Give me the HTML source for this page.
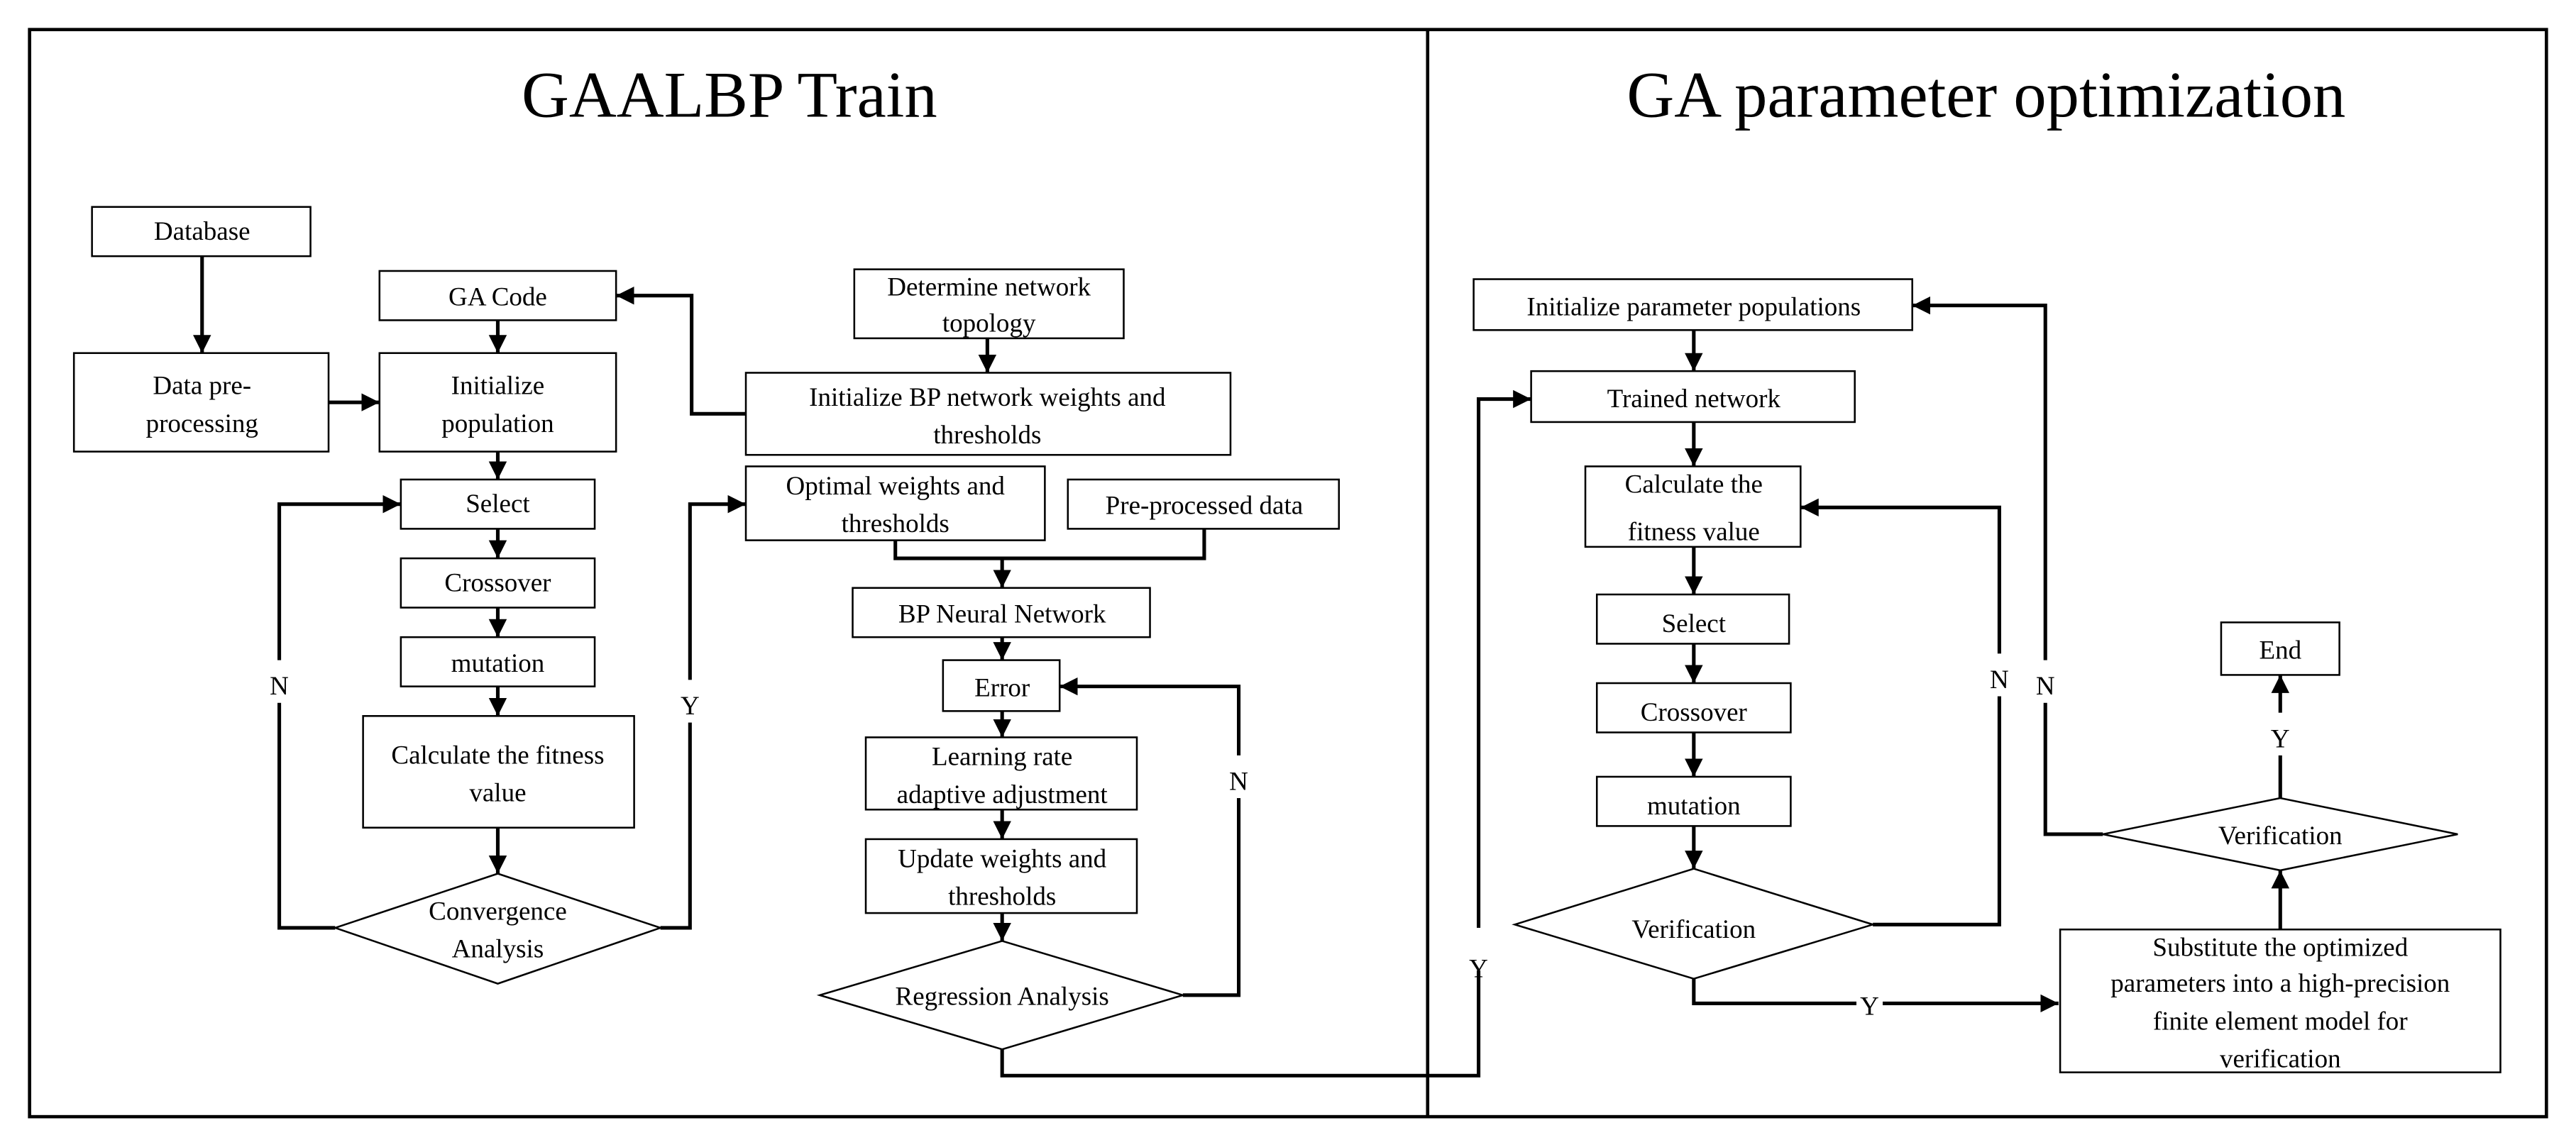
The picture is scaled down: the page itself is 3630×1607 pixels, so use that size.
<!DOCTYPE html>
<html><head><meta charset="utf-8"><style>
html,body{margin:0;padding:0;background:#fff;}
svg{display:block;}
text{font-family:"Liberation Serif",serif;font-size:16px;fill:#000;text-anchor:middle;}
.t{font-size:40px;}
.b{fill:#fff;stroke:#000;stroke-width:1.1;}
.c{fill:none;stroke:#000;stroke-width:2.2;}
</style></head><body>
<svg width="3630" height="1607" viewBox="0 0 1568 694.2" preserveAspectRatio="none" xmlns="http://www.w3.org/2000/svg">
<defs><marker id="a" viewBox="0 0 10 10" refX="10" refY="5" markerWidth="5" markerHeight="5" orient="auto" markerUnits="strokeWidth"><path d="M0,0 L10,5 L0,10 z" fill="#000"/></marker></defs>
<rect x="18" y="18" width="1532" height="662" fill="none" stroke="#000" stroke-width="2"/>
<line x1="869" y1="18" x2="869" y2="680" stroke="#000" stroke-width="2"/>
<text class="t" x="444" y="71">GAALBP Train</text>
<text class="t" x="1209" y="71">GA parameter optimization</text>

<!-- connectors left -->
<g class="c" marker-end="url(#a)">
<path d="M123,156 V215"/>
<path d="M200,245 H231"/>
<path d="M303,195 V215"/>
<path d="M303,275 V292"/>
<path d="M303,322 V340"/>
<path d="M303,370 V388"/>
<path d="M303,418 V436"/>
<path d="M303,504 V532"/>
<path d="M204,565 H170 V307 H244"/>
<path d="M402,565 H420 V307 H454"/>
<path d="M601,206 V227"/>
<path d="M454,252 H421 V180 H375"/>
<path d="M610,340 V358"/>
<path d="M610,388 V402"/>
<path d="M610,433 V449"/>
<path d="M610,493 V511"/>
<path d="M610,556 V573"/>
<path d="M720,606 H754 V418 H645"/>
<path d="M610,639 V655 H900 V243 H932"/>
<!-- right -->
<path d="M1031,201 V226"/>
<path d="M1031,257 V284"/>
<path d="M1031,333 V362"/>
<path d="M1031,392 V416"/>
<path d="M1031,446 V473"/>
<path d="M1031,503 V529"/>
<path d="M1140,563 H1217 V309 H1096"/>
<path d="M1031,596 V611 H1253"/>
<path d="M1388,566 V530"/>
<path d="M1388,486 V411"/>
<path d="M1280,508 H1245 V186 H1164"/>
</g>
<path class="c" d="M545,329 V340 H733 V322"/>

<!-- label backgrounds -->
<g fill="#fff">
<rect x="162" y="402" width="16" height="26"/>
<rect x="412" y="414" width="16" height="26"/>
<rect x="746" y="460" width="16" height="26"/>
<rect x="892" y="565" width="16" height="26"/>
<rect x="1209" y="398" width="16" height="26"/>
<rect x="1237" y="402" width="16" height="26"/>
<rect x="1130" y="598" width="16" height="26"/>
<rect x="1380" y="434" width="16" height="26"/>
</g>
<g style="font-size:20px">
<text x="170" y="423">N</text>
<text x="420" y="435">Y</text>
<text x="754" y="481">N</text>
<text x="900" y="595">Y</text>
<text x="1217" y="419">N</text>
<text x="1245" y="423">N</text>
<text x="1138" y="618">Y</text>
<text x="1388" y="455">Y</text>
</g>

<!-- boxes left -->
<rect class="b" x="56" y="126" width="133" height="30"/><text x="123" y="146">Database</text>
<rect class="b" x="231" y="165" width="144" height="30"/><text x="303" y="186">GA Code</text>
<rect class="b" x="45" y="215" width="155" height="60"/><text x="123" y="240">Data pre-</text><text x="123" y="263">processing</text>
<rect class="b" x="231" y="215" width="144" height="60"/><text x="303" y="240">Initialize</text><text x="303" y="263">population</text>
<rect class="b" x="244" y="292" width="118" height="30"/><text x="303" y="312">Select</text>
<rect class="b" x="244" y="340" width="118" height="30"/><text x="303" y="360">Crossover</text>
<rect class="b" x="244" y="388" width="118" height="30"/><text x="303" y="409">mutation</text>
<rect class="b" x="221" y="436" width="165" height="68"/><text x="303" y="465">Calculate the fitness</text><text x="303" y="488">value</text>
<polygon class="b" points="204,565 303,532 402,565 303,599"/><text x="303" y="560">Convergence</text><text x="303" y="583">Analysis</text>
<rect class="b" x="520" y="164" width="164" height="42"/><text x="602" y="180">Determine network</text><text x="602" y="202">topology</text>
<rect class="b" x="454" y="227" width="295" height="50"/><text x="601" y="247">Initialize BP network weights and</text><text x="601" y="270">thresholds</text>
<rect class="b" x="454" y="284" width="182" height="45"/><text x="545" y="301">Optimal weights and</text><text x="545" y="324">thresholds</text>
<rect class="b" x="650" y="292" width="165" height="30"/><text x="733" y="313">Pre-processed data</text>
<rect class="b" x="519" y="358" width="181" height="30"/><text x="610" y="379">BP Neural Network</text>
<rect class="b" x="574" y="402" width="71" height="31"/><text x="610" y="424">Error</text>
<rect class="b" x="527" y="449" width="165" height="44"/><text x="610" y="466">Learning rate</text><text x="610" y="489">adaptive adjustment</text>
<rect class="b" x="527" y="511" width="165" height="45"/><text x="610" y="528">Update weights and</text><text x="610" y="551">thresholds</text>
<polygon class="b" points="499,606 610,573 720,606 610,639"/><text x="610" y="612">Regression Analysis</text>

<!-- boxes right -->
<rect class="b" x="897" y="170" width="267" height="31"/><text x="1031" y="192">Initialize parameter populations</text>
<rect class="b" x="932" y="226" width="197" height="31"/><text x="1031" y="248">Trained network</text>
<rect class="b" x="965" y="284" width="131" height="49"/><text x="1031" y="300">Calculate the</text><text x="1031" y="329">fitness value</text>
<rect class="b" x="972" y="362" width="117" height="30"/><text x="1031" y="385">Select</text>
<rect class="b" x="972" y="416" width="118" height="30"/><text x="1031" y="439">Crossover</text>
<rect class="b" x="972" y="473" width="118" height="30"/><text x="1031" y="496">mutation</text>
<polygon class="b" points="922,563 1031,529 1140,563 1031,596"/><text x="1031" y="571">Verification</text>
<rect class="b" x="1254" y="566" width="268" height="87"/><text x="1388" y="582">Substitute the optimized</text><text x="1388" y="604">parameters into a high-precision</text><text x="1388" y="627">finite element model for</text><text x="1388" y="650">verification</text>
<polygon class="b" points="1280,508 1388,486 1496,508 1388,530"/><text x="1388" y="514">Verification</text>
<rect class="b" x="1352" y="379" width="72" height="32"/><text x="1388" y="401">End</text>
</svg>
</body></html>
